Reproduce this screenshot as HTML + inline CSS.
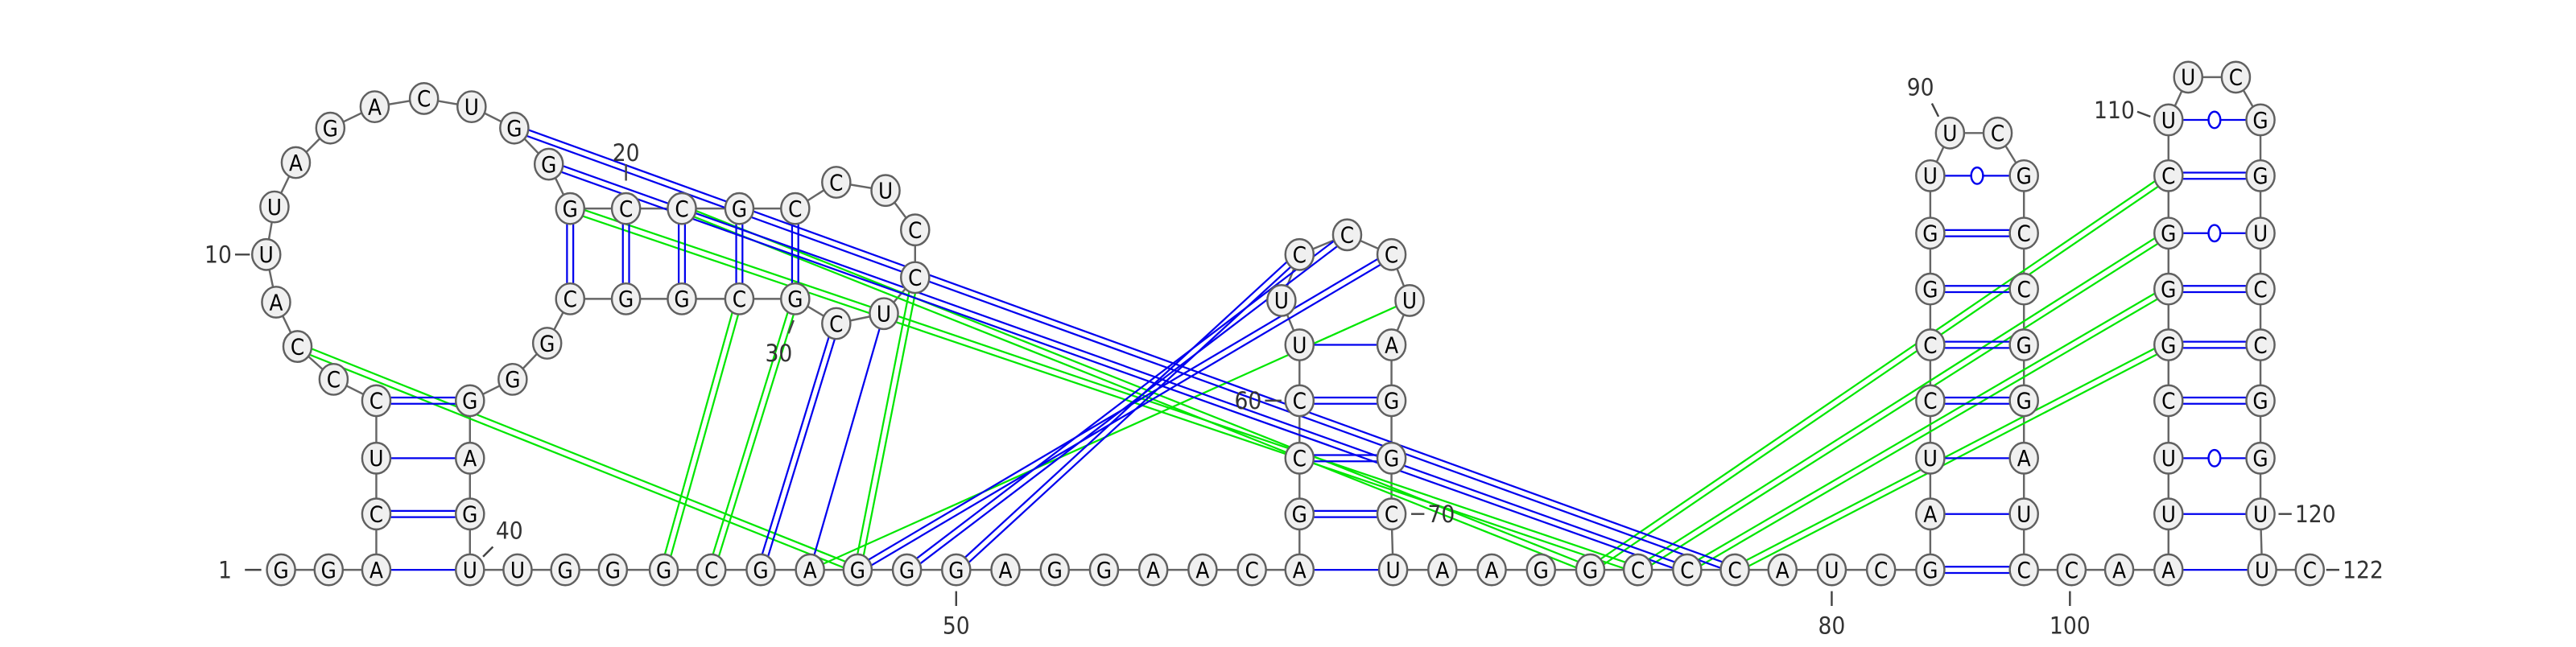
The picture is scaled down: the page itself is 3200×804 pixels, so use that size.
<!DOCTYPE html>
<html><head><meta charset="utf-8">
<style>
html,body{margin:0;padding:0;background:#fff;}
svg{display:block;}
text{font-family:"DejaVu Sans Condensed","DejaVu Sans","Liberation Sans",sans-serif;}
</style></head>
<body>
<svg id="rna" width="3200" height="804" viewBox="0 0 1568 394" xmlns="http://www.w3.org/2000/svg">
<g id="backbone"></g>
<g id="pairs"></g>
<g id="nts"></g>
<g id="labels"></g>
</svg>
<script>
const NS="http://www.w3.org/2000/svg";
// nucleotide: [letter, x, y]
const nt=[null,
["G",171,347],["G",200,347],["A",229,347],["C",229,313],["U",229,279],["C",229,244],
["C",203,231],["C",181,211],["A",168,184],["U",162,155],["U",167,126],["A",180,99],
["G",201,78],["A",228,65],["C",258,60],["U",287,65],["G",313,78],["G",334,100],
["G",347,127],["C",381,127],["C",415,127],["G",450,127],["C",484,127],["C",509,111],
["U",539,116],["C",557,140],["C",557,169],["U",538,191],["C",509,197],["G",484,182],
["C",450,182],["G",415,182],["G",381,182],["C",347,182],["G",333,209],["G",312,231],
["G",286,244],["A",286,279],["G",286,313],["U",286,347],
["U",315,347],["G",344,347],["G",373,347],["G",404,347],["C",433,347],["G",463,347],
["A",493,347],["G",522,347],["G",552,347],["G",582,347],["A",612,347],["G",642,347],
["G",672,347],["A",702,347],["A",732,347],["C",762,347],["A",791,347],
["G",791,313],["C",791,279],["C",791,244],["U",791,210],["U",780,183],["C",791,155],
["C",820,143],["C",847,155],["U",858,183],["A",847,210],["G",847,244],["G",847,279],
["C",847,313],["U",848,347],["A",878,347],["A",908,347],["G",938,347],["G",968,347],
["C",997,347],["C",1027,347],["C",1056,347],["A",1085,347],["U",1115,347],["C",1145,347],
["G",1175,347],["A",1175,313],["U",1175,279],["C",1175,244],["C",1175,210],["G",1175,176],
["G",1175,142],["U",1175,107],["U",1187,81],["C",1216,81],["G",1232,107],["C",1232,142],
["C",1232,176],["G",1232,210],["G",1232,244],["A",1232,279],["U",1232,313],["C",1232,347],
["C",1261,347],["A",1290,347],["A",1320,347],["U",1320,313],["U",1320,279],["C",1320,244],
["G",1320,210],["G",1320,176],["G",1320,142],["C",1320,107],["U",1320,73],["U",1332,47],
["C",1361,47],["G",1376,73],["G",1376,107],["U",1376,142],["C",1376,176],["C",1376,210],
["G",1376,244],["G",1376,279],["U",1376,313],["U",1377,347],["C",1406,347]];
// pairs: [i, j, type] type: 1 single, 2 double, 0 GU circle
const bluePairs=[[3,40,1],[4,39,2],[5,38,1],[6,37,2],
[19,34,2],[20,33,2],[21,32,2],[22,31,2],[23,30,2],
[57,71,1],[58,70,2],[59,69,2],[60,68,2],[61,67,1],
[82,99,2],[83,98,1],[84,97,1],[85,96,2],[86,95,2],[87,94,2],[88,93,2],[89,92,0],
[102,121,1],[103,120,1],[104,119,0],[105,118,2],[106,117,2],[107,116,2],[108,115,0],[109,114,2],[110,113,0],
[17,78,2],[18,77,2],[29,46,2],[28,47,1],[48,65,2],[49,64,2],[50,63,2]];
const greenPairs=[[19,76,2],[21,75,2],[8,48,2],[31,44,2],[30,45,2],[27,48,2],[66,47,1],
[75,109,2],[76,108,2],[77,107,2],[78,106,2]];
// labels: [text, x, y, anchor, tickX1, tickY1, tickX2, tickY2]
const labels=[["1",141,347,"end",149,347,159,347],["10",141,155,"end",143,155,152,155],["20",381,93,"middle",381,100,381,110],
["30",474,215,"middle",480,203,483,195],["40",310,323,"middle",300,333,294,339],["50",582,381,"middle",582,360,582,369],
["60",768,244,"end",770,244,780,244],["70",869,313,"start",859,313,867,313],["80",1115,381,"middle",1115,360,1115,369],
["90",1169,53,"middle",1176,63,1180,71],["100",1260,381,"middle",1260,360,1260,369],["110",1287,67,"middle",1301,68,1309,71],
["120",1397,313,"start",1387,313,1395,313],["122",1426,347,"start",1416,347,1424,347]];

function mk(tag,attrs,parent){const e=document.createElementNS(NS,tag);for(const k in attrs)e.setAttribute(k,attrs[k]);parent.appendChild(e);return e;}
const bb=document.getElementById('backbone'),pg=document.getElementById('pairs'),ng=document.getElementById('nts'),lg=document.getElementById('labels');
for(let i=1;i<nt.length-1;i++){
  const l=mk('line',{x1:nt[i][1],y1:nt[i][2],x2:nt[i+1][1],y2:nt[i+1][2],stroke:'#666',"stroke-width":1.2},bb);
  
  
}
function drawPair(p,color){
  const a=nt[p[0]],b=nt[p[1]];
  const dx=b[1]-a[1],dy=b[2]-a[2],L=Math.hypot(dx,dy),nx=-dy/L,ny=dx/L;
  const g=mk('g',{},pg);
  
  
  if(p[2]===2){
    for(const s of [-1.9,1.9]) mk('line',{x1:a[1]+nx*s,y1:a[2]+ny*s,x2:b[1]+nx*s,y2:b[2]+ny*s,stroke:color,"stroke-width":1.1},g);
  } else {
    mk('line',{x1:a[1],y1:a[2],x2:b[1],y2:b[2],stroke:color,"stroke-width":1.1},g);
    if(p[2]===0) mk('ellipse',{cx:(a[1]+b[1])/2,cy:(a[2]+b[2])/2,rx:3.6,ry:5,fill:'#fff',stroke:color,"stroke-width":1.2},g);
  }
}
greenPairs.forEach(p=>drawPair(p,'#00e600'));
bluePairs.forEach(p=>drawPair(p,'#0000ee'));
for(let i=1;i<nt.length;i++){
  const g=mk('g',{},ng);
  
  
  mk('ellipse',{cx:nt[i][1],cy:nt[i][2],rx:8.6,ry:9.4,fill:'#f0f0f0',stroke:'#606060',"stroke-width":1.2},g);
  const t=mk('text',{x:nt[i][1],y:nt[i][2]+4.8,"text-anchor":"middle","font-size":13.5,fill:'#000'},g);
  t.textContent=nt[i][0];
}
labels.forEach(l=>{
  const g=mk('g',{},lg);
  
  
  mk('line',{x1:l[4],y1:l[5],x2:l[6],y2:l[7],stroke:'#444',"stroke-width":1.2},g);
  const t=mk('text',{x:l[1],y:l[2]+5,"text-anchor":l[3],"font-size":14.5,fill:'#333'},g);
  t.textContent=l[0];
});
</script>
</body></html>
